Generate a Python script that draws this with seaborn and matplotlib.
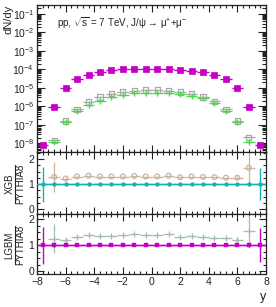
import numpy as np
import pandas as pd
import matplotlib
matplotlib.use("Agg")
import matplotlib.pyplot as plt
import matplotlib.ticker as mticker
from matplotlib.lines import Line2D
import seaborn as sns

# ---------------- data ----------------
y_centers = [-7.6, -6.8, -6.0, -5.2, -4.4, -3.6, -2.8, -2.0, -1.2, -0.4,
             0.4, 1.2, 2.0, 2.8, 3.6, 4.4, 5.2, 6.0, 6.8, 7.6]
bin_halfwidth = 0.4

# log10 of dN/dy
pythia_log = [-8.1, -6.02, -5.0, -4.55, -4.33, -4.16, -4.06, -4.01, -3.97, -3.97,
              -3.97, -3.99, -4.05, -4.08, -4.16, -4.3, -4.55, -5.02, -6.02, -8.1]
xgb_log = [np.nan, -7.85, -6.8, -6.16, -5.77, -5.5, -5.32, -5.23, -5.16, -5.12,
           -5.12, -5.16, -5.23, -5.32, -5.5, -5.73, -6.16, -6.8, -7.68, np.nan]
lgbm_log = [np.nan, -7.95, -6.88, -6.25, -5.95, -5.71, -5.5, -5.39, -5.3, -5.26,
            -5.28, -5.3, -5.35, -5.44, -5.57, -5.85, -6.28, -6.88, -7.95, np.nan]

xgb_ratio = [np.nan, 1.28, 1.22, 1.3, 1.33, 1.3, 1.3, 1.3, 1.32, 1.3,
             1.3, 1.33, 1.27, 1.3, 1.28, 1.27, 1.25, 1.25, 1.65, np.nan]
xgb_ratio_err = [np.nan, 0.6, 0.08, 0.04, 0.03, 0.02, 0.02, 0.02, 0.02, 0.02,
                 0.02, 0.02, 0.02, 0.02, 0.02, 0.03, 0.04, 0.08, 0.65, np.nan]
lgbm_ratio = [np.nan, 1.25, 1.2, 1.33, 1.38, 1.35, 1.37, 1.38, 1.42, 1.4,
              1.4, 1.42, 1.33, 1.35, 1.33, 1.28, 1.27, 1.22, 1.55, np.nan]
lgbm_ratio_err = [np.nan, 0.55, 0.08, 0.04, 0.03, 0.02, 0.02, 0.02, 0.02, 0.02,
                  0.02, 0.02, 0.02, 0.02, 0.02, 0.03, 0.04, 0.08, 0.6, np.nan]
ref_ratio = [1.0] * 20
ref_ratio_err = [0.7, 0.05, 0.02, 0.01, 0.01, 0.01, 0.01, 0.01, 0.01, 0.01,
                 0.01, 0.01, 0.01, 0.01, 0.01, 0.01, 0.01, 0.02, 0.05, 0.65]

xticks = [-8, -6, -4, -2, 0, 2, 4, 6, 8]
ratio_names = [("XGB", "PYTHIA8"), ("LGBM", "PYTHIA8")]

MAG = "#c400c4"
GRAY = "#a8a8a8"
GREEN = "#44dd44"
TAN = "#cdb39c"
CYAN = "#13b3b3"
GGREEN = "#a3bcae"

sns.set_style("ticks")
plt.rcParams["font.family"] = ["Liberation Sans", "DejaVu Sans"]
plt.rcParams["mathtext.fontset"] = "custom"
plt.rcParams["mathtext.rm"] = "Liberation Sans"
plt.rcParams["mathtext.it"] = "Liberation Sans:italic"

df = pd.DataFrame({
    "y": y_centers,
    "pythia": np.power(10.0, pythia_log),
    "xgb": np.power(10.0, xgb_log),
    "lgbm": np.power(10.0, lgbm_log),
    "xgb_ratio": xgb_ratio, "xgb_ratio_err": xgb_ratio_err,
    "lgbm_ratio": lgbm_ratio, "lgbm_ratio_err": lgbm_ratio_err,
    "ref": ref_ratio, "ref_err": ref_ratio_err,
})

W, H = 276, 307
fig = plt.figure(figsize=(W / 100, H / 100), dpi=100)
L, R = 37, 266


def add_ax(top, bottom):
    return fig.add_axes([L / W, 1 - bottom / H, (R - L) / W, (bottom - top) / H])


ax1 = add_ax(5, 152)
ax2 = add_ax(152, 214)
ax3 = add_ax(214, 274)

FS = 7.5
TXT = "#222222"


def style(ax):
    ax.set_xlim(-8, 8)
    ax.xaxis.set_major_locator(mticker.FixedLocator(xticks))
    ax.xaxis.set_minor_locator(mticker.MultipleLocator(0.4))
    ax.tick_params(which="both", direction="in", top=True, right=True,
                   labelsize=FS, width=0.8, colors=TXT, pad=2)
    ax.tick_params(which="major", length=5)
    ax.tick_params(which="minor", length=2.5)
    for s in ax.spines.values():
        s.set_linewidth(0.9)
        s.set_color(TXT)
    ax.set_xlabel("")
    ax.set_ylabel("")


def draw(ax, col, errcol, color, marker, mfc, ms, lw=0.9):
    d = df.dropna(subset=[col])
    ax.errorbar(d["y"], d[col], xerr=bin_halfwidth, yerr=d[errcol],
                fmt="none", ecolor=color, elinewidth=lw, capsize=0)
    sns.scatterplot(data=d, x="y", y=col, ax=ax, marker=marker, s=ms,
                    color=mfc, edgecolor=color, linewidth=0.9, legend=False,
                    zorder=5)


def fraction_label(num, den, yc):
    fs = 7
    fig.text(9.5 / W, 1 - yc / H, num, rotation=90, fontsize=fs,
             va="center", ha="center", color=TXT)
    fig.text(20.5 / W, 1 - yc / H, den, rotation=90, fontsize=fs,
             va="center", ha="center", color=TXT)
    fig.add_artist(Line2D([15.0 / W, 15.0 / W], [1 - (yc - 19) / H, 1 - (yc + 19) / H],
                          transform=fig.transFigure, color=TXT, lw=0.8))


# ---- top panel ----
ax1.set_yscale("log")
ax1.errorbar(df["y"], df["xgb"], xerr=bin_halfwidth, yerr=df["xgb"] * 0.08,
             fmt="none", ecolor=GRAY, elinewidth=0.9)
sns.scatterplot(data=df, x="y", y="xgb", ax=ax1, marker="s", s=14,
                facecolor="none", edgecolor=GRAY, linewidth=0.9, legend=False, zorder=5)
ax1.errorbar(df["y"], df["lgbm"], xerr=bin_halfwidth, yerr=df["lgbm"] * 0.08,
             fmt="none", ecolor=GREEN, elinewidth=0.9)
sns.scatterplot(data=df, x="y", y="lgbm", ax=ax1, marker="+", s=16,
                color=GREEN, linewidth=1.0, legend=False, zorder=5)
ax1.errorbar(df["y"], df["pythia"], xerr=bin_halfwidth, yerr=df["pythia"] * 0.15,
             fmt="none", ecolor=MAG, elinewidth=1.0)
sns.scatterplot(data=df, x="y", y="pythia", ax=ax1, marker="s", s=16,
                color=MAG, edgecolor=MAG, linewidth=0.5, legend=False, zorder=6)
style(ax1)
ax1.set_ylim(10 ** -8.48, 10 ** -0.52)
ax1.yaxis.set_major_locator(mticker.LogLocator(base=10, numticks=20))
ax1.yaxis.set_minor_locator(mticker.LogLocator(base=10, subs=np.arange(2, 10), numticks=20))
ax1.yaxis.set_minor_formatter(mticker.NullFormatter())
ax1.tick_params(axis="y", which="major", length=6)
ax1.tick_params(axis="y", which="minor", length=3)
ax1.xaxis.set_major_formatter(mticker.NullFormatter())
ax1.text((57 - L) / (R - L), 1 - (23 - 5) / 147,
         "pp, $\\sqrt{\\rm s}$ = 7 TeV, J/\u03c8 \u2192 \u03bc$^{+}$+\u03bc$^{-}$",
         transform=ax1.transAxes, fontsize=7, va="center", ha="left", color=TXT)
fig.text(4 / W, 1 - 5 / H, "dN/dy", rotation=90, fontsize=8, va="top", ha="left",
         color=TXT)

# ---- middle ratio panel ----
ax2.axhline(1.0, color=CYAN, lw=1.0, zorder=3)
draw(ax2, "xgb_ratio", "xgb_ratio_err", TAN, "o", "none", 12)
ax2.errorbar(df["y"], df["ref"], xerr=bin_halfwidth, yerr=df["ref_err"],
             fmt="none", ecolor=CYAN, elinewidth=1.0)
sns.scatterplot(data=df, x="y", y="ref", ax=ax2, marker="o", s=8, color=CYAN,
                edgecolor=CYAN, legend=False, zorder=6)
style(ax2)
ax2.set_ylim(-0.2, 2.28)
ax2.yaxis.set_major_locator(mticker.FixedLocator([0, 1, 2]))
ax2.yaxis.set_minor_locator(mticker.MultipleLocator(0.25))
ax2.xaxis.set_major_formatter(mticker.NullFormatter())
fraction_label(*ratio_names[0], 184)

# ---- bottom ratio panel ----
ax3.axhline(1.0, color=MAG, lw=1.0, zorder=3)
draw(ax3, "lgbm_ratio", "lgbm_ratio_err", GGREEN, "+", GGREEN, 14)
ax3.errorbar(df["y"], df["ref"], xerr=bin_halfwidth, yerr=df["ref_err"],
             fmt="none", ecolor=MAG, elinewidth=1.0)
sns.scatterplot(data=df, x="y", y="ref", ax=ax3, marker="s", s=12, color=MAG,
                edgecolor=MAG, legend=False, zorder=6)
style(ax3)
ax3.set_ylim(-0.1, 2.2)
ax3.yaxis.set_major_locator(mticker.FixedLocator([0, 1, 2]))
ax3.yaxis.set_minor_locator(mticker.MultipleLocator(0.25))
ax3.xaxis.set_major_formatter(mticker.FuncFormatter(lambda v, p: f"{v:g}".replace("-", "\u2212")))
fraction_label(*ratio_names[1], 245)
fig.text(266 / W, 1 - 297 / H, "y", fontsize=9, ha="right", va="center", color=TXT)

fig.savefig("out.png", dpi=100, facecolor="white")
